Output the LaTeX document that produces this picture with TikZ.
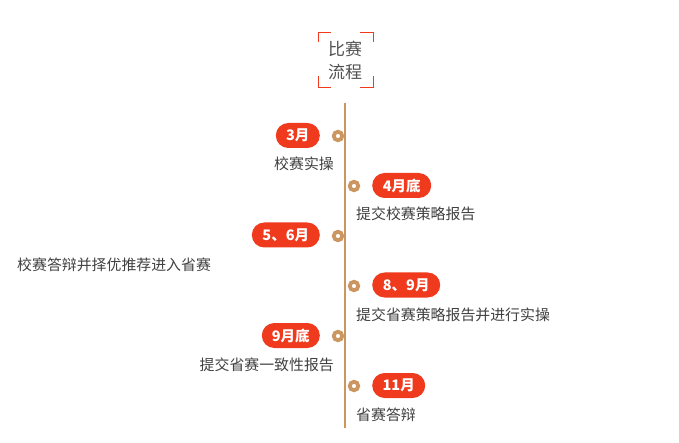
\documentclass[tikz,border=0pt]{standalone}
\usepackage{fontspec}
\setmainfont{Noto Sans CJK SC}
\usetikzlibrary{positioning}
\definecolor{pillred}{HTML}{EF3A1D}
\definecolor{tan}{HTML}{CC9660}
\definecolor{txt}{HTML}{404040}
\definecolor{ttl}{HTML}{505050}
\begin{document}
\begin{tikzpicture}[x=1pt,y=-1pt,
  pill/.style={fill=pillred,text=white,rounded corners=12.5pt,minimum height=25pt,inner sep=0pt,font=\fontsize{14.5}{16}\selectfont\bfseries},
  dot/.style={circle,draw=tan,line width=3.8pt,fill=white,minimum size=8.5pt,inner sep=0pt},
  lbl/.style={text=txt,inner sep=0pt,font=\fontsize{14.9}{16}\selectfont},
  bracket/.style={draw=pillred,line width=0.9pt}]
\useasboundingbox (0,0) rectangle (679,443);
% title
\node[text=ttl,align=center,font=\fontsize{17}{23}\selectfont] (title) at (345,60) {比赛\\流程};
\draw[bracket] (318,42) -- (318,32) -- (331,32);
\draw[bracket] (360,32) -- (373,32) -- (373,42);
\draw[bracket] (318,76) -- (318,87) -- (331,87);
\draw[bracket] (360,87) -- (373,87) -- (373,76);
% axis
\coordinate (top) at (345,103);
\coordinate (bot) at (345,428);
\draw[tan,line width=1.1pt] (top) -- (bot);
% dots
\node[dot] (d1) at (338,136) {};
\node[dot] (d2) at (354,186) {};
\node[dot] (d3) at (338,236) {};
\node[dot] (d4) at (354,286) {};
\node[dot] (d5) at (338,336) {};
\node[dot] (d6) at (354,386) {};
% pills
\node[pill,minimum width=44pt,anchor=east] (p1) at (320,135.5) {3月};
\node[pill,minimum width=59pt,anchor=west] (p2) at (372,185.5) {4月底};
\node[pill,minimum width=68pt,anchor=east] (p3) at (320,235) {5、6月};
\node[pill,minimum width=68pt,anchor=west] (p4) at (372,285) {8、9月};
\node[pill,minimum width=58pt,anchor=east] (p5) at (320,335.5) {9月底};
\node[pill,minimum width=53pt,anchor=west] (p6) at (372,385.5) {11月};
% labels
\node[lbl,anchor=east] (l1) at (334,164) {校赛实操};
\node[lbl,anchor=west] (l2) at (356,214) {提交校赛策略报告};
\node[lbl,anchor=west] (l3) at (17,265) {校赛答辩并择优推荐进入省赛};
\node[lbl,anchor=west] (l4) at (356,315) {提交省赛策略报告并进行实操};
\node[lbl,anchor=east] (l5) at (334,365) {提交省赛一致性报告};
\node[lbl,anchor=west] (l6) at (356,415) {省赛答辩};
\end{tikzpicture}
\end{document}
